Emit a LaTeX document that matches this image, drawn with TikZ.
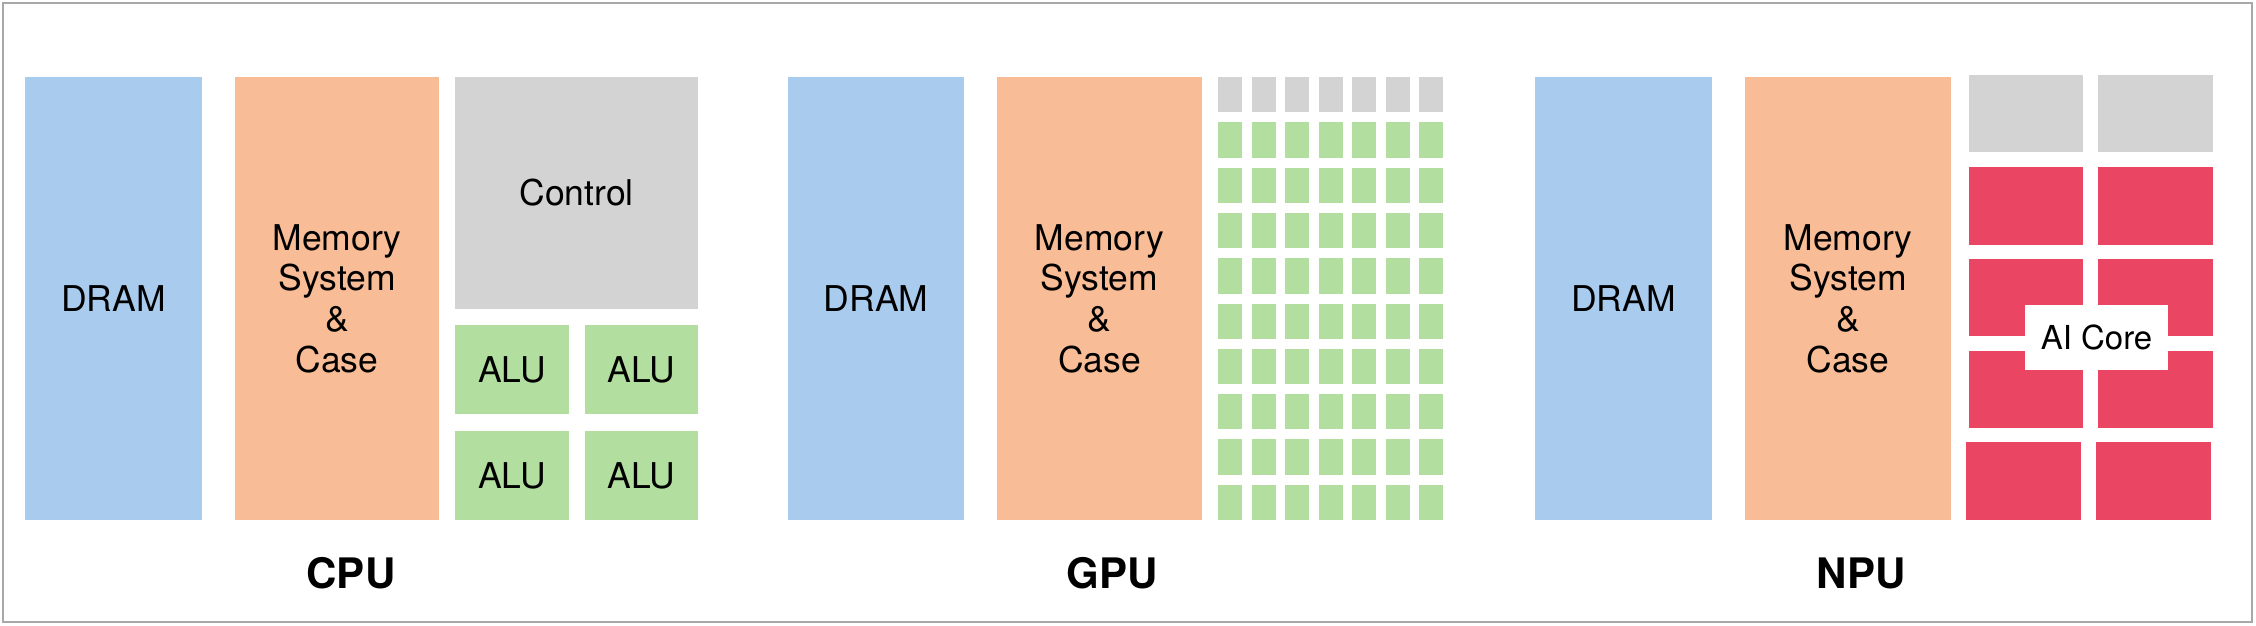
\documentclass[tikz,border=0pt]{standalone}
\usepackage{fontspec}
\setmainfont{TeX Gyre Heros}
\definecolor{cblue}{HTML}{A9CCEE}
\definecolor{corange}{HTML}{F8BC96}
\definecolor{cgray}{HTML}{D3D3D3}
\definecolor{cgreen}{HTML}{B2DE9F}
\definecolor{cred}{HTML}{EA4664}
\definecolor{cframe}{HTML}{A8A8A8}
\tikzset{
  blk/.style={inner sep=0pt, outer sep=0pt, draw=none, anchor=north west, align=center,
    font=\fontsize{35.5}{40.7}\selectfont},
  dramblk/.style={blk, fill=cblue},
  memblk/.style={blk, fill=corange},
  ctrlblk/.style={blk, fill=cgray},
  alublk/.style={blk, fill=cgreen},
  coreblk/.style={blk, fill=cred},
  title/.style={inner sep=0pt, font=\fontsize{42}{48}\selectfont\bfseries},
  corelabel/.style={blk, fill=white, anchor=center, font=\fontsize{33}{38}\selectfont},
  frame/.style={draw=cframe, line width=1.6pt}
}
\newcommand\blk[7]{\node[#2, minimum width={(#5-#3)*1pt}, minimum height={(#6-#4)*1pt}] (#1) at (#3,#4) {#7};}
\begin{document}
\begin{tikzpicture}[x=1pt,y=-1pt]
\useasboundingbox (0,0) rectangle (2256,626);
\draw[frame] (3,3) rectangle (2252,622);
% ---------- CPU ----------
\blk{dram1}{dramblk}{25}{77}{202}{520}{DRAM}
\blk{mem1}{memblk}{235}{77}{439}{520}{Memory\\System\\\&\\Case}
\blk{ctrl1}{ctrlblk}{455}{77}{698}{309}{Control}
\blk{alu11}{alublk}{455}{325}{569}{414}{ALU}
\blk{alu12}{alublk}{585}{325}{698}{414}{ALU}
\blk{alu21}{alublk}{455}{431}{569}{520}{ALU}
\blk{alu22}{alublk}{585}{431}{698}{520}{ALU}
\node[title] (cpu) at (351,573) {CPU};
% ---------- GPU ----------
\blk{dram2}{dramblk}{788}{77}{964}{520}{DRAM}
\blk{mem2}{memblk}{997}{77}{1202}{520}{Memory\\System\\\&\\Case}
\foreach \i in {0,...,6}{
  \foreach \j in {0,...,9}{
    \pgfmathsetmacro\gx{1218+33.5*\i}
    \pgfmathsetmacro\gy{77+45.3*\j}
    \ifnum\j=0
      \node[ctrlblk, minimum width=24pt, minimum height=35.3pt] (g-\i-\j) at (\gx,\gy) {};
    \else
      \node[alublk, minimum width=24pt, minimum height=35.3pt] (g-\i-\j) at (\gx,\gy) {};
    \fi
  }
}
\node[title] (gpu) at (1112,573) {GPU};
% ---------- NPU ----------
\blk{dram3}{dramblk}{1535}{77}{1712}{520}{DRAM}
\blk{mem3}{memblk}{1745}{77}{1951}{520}{Memory\\System\\\&\\Case}
\blk{nc1}{ctrlblk}{1969}{75}{2083}{152}{}
\blk{nc2}{ctrlblk}{2098}{75}{2213}{152}{}
\blk{r11}{coreblk}{1969}{167}{2083}{245}{}
\blk{r12}{coreblk}{2098}{167}{2213}{245}{}
\blk{r21}{coreblk}{1969}{259}{2083}{336}{}
\blk{r22}{coreblk}{2098}{259}{2213}{336}{}
\blk{r31}{coreblk}{1969}{351}{2083}{428}{}
\blk{r32}{coreblk}{2098}{351}{2213}{428}{}
\blk{r41}{coreblk}{1966}{442}{2081}{520}{}
\blk{r42}{coreblk}{2096}{442}{2211}{520}{}
\node[corelabel, minimum width=143pt, minimum height=65pt] (aicore) at (2096.5,337.5) {AI Core};
\node[title] (npu) at (1861,573) {NPU};
\end{tikzpicture}
\end{document}
